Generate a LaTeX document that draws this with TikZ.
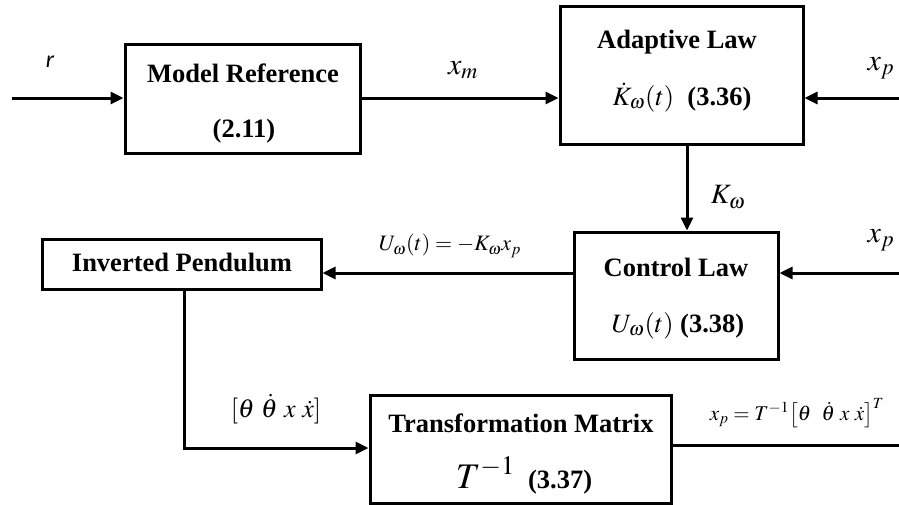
\documentclass[tikz,border=0pt]{standalone}
\usepackage{mathptmx}
\usepackage{fontspec}
\setmainfont{Liberation Serif}
\newfontfamily\carl{Carlito}
\usetikzlibrary{arrows.meta}
\tikzset{
  box/.style={draw, line width=3pt, inner sep=0pt},
  wire/.style={line width=3pt},
  arr/.style={wire, -{Triangle[length=13pt,width=12pt]}},
  btxt/.style={font=\fontsize{26.5}{30}\selectfont\bfseries, anchor=base, inner sep=0pt},
  lbl/.style={inner sep=0pt},
}
\begin{document}
\begin{tikzpicture}[x=1pt,y=-1pt]
\useasboundingbox (0,0) rectangle (899,504);
% boxes
\node[box, minimum width=235pt, minimum height=109pt] (mr) at (242.5,98.5) {};
\node[box, minimum width=243pt, minimum height=138pt] (al) at (681.5,75) {};
\node[box, minimum width=204pt, minimum height=127pt] (cl) at (676,295.5) {};
\node[box, minimum width=279pt, minimum height=50pt] (ip) at (181.5,264) {};
\node[box, minimum width=301pt, minimum height=108pt] (tm) at (520.5,449) {};
% box texts
\node[btxt] (mr1) at (243,82) {Model Reference};
\node[btxt] (mr2) at (244,137) {(2.11)};
\node[btxt] (al1) at (677,48) {Adaptive Law};
\node[btxt] (al2) at (682,105) {$\dot K_\omega(t)$\ \ (3.36)};
\node[btxt] (cl1) at (676,276) {Control Law};
\node[btxt] (cl2) at (678,332) {$U_\omega(t)$\ (3.38)};
\node[btxt] (ip1) at (182,271) {Inverted Pendulum};
\node[btxt] (tm1) at (521,432) {Transformation Matrix};
\node[btxt] (tm2) at (524,488) {{\fontsize{36}{40}\selectfont$T^{-1}$}\ \ (3.37)};
% helper coordinates
\coordinate (rin) at (12,98);
\coordinate (xp1) at (899,98);
\coordinate (xp2) at (899,273);
\coordinate (v) at (687,0);
\coordinate (u) at (0,273);
\coordinate (w) at (184,0);
\coordinate (tmy) at (0,448);
\coordinate (oy) at (0,445);
\coordinate (xout) at (899,445);
% connectors
\draw[arr] (rin) -- (rin -| mr.west);
\draw[arr] (mr.east |- rin) -- (rin -| al.west);
\draw[arr] (xp1) -- (xp1 -| al.east);
\draw[arr] (al.south -| v) -- (cl.north -| v);
\draw[arr] (xp2) -- (xp2 -| cl.east);
\draw[arr] (cl.west |- u) -- (ip.east |- u);
\draw[arr] (ip.south -| w) -- (w |- tmy) -- (tm.west |- tmy);
\draw[wire] (tm.east |- oy) -- (xout);
% labels
\node[lbl, font=\carl\itshape\fontsize{24}{28}\selectfont] (lr) at (50,62) {r};
\node[lbl, font=\fontsize{30}{34}\selectfont] (lxm) at (463,70) {$x_m$};
\node[lbl, font=\fontsize{30}{34}\selectfont] (lxp1) at (881,68) {$x_p$};
\node[lbl, font=\fontsize{28}{32}\selectfont] (lk) at (728,197) {$K_\omega$};
\node[lbl, font=\fontsize{30}{34}\selectfont] (lxp2) at (881,240) {$x_p$};
\node[lbl, font=\fontsize{22}{26}\selectfont] (lu) at (450,246) {$U_\omega(t)=-K_\omega x_p$};
\node[lbl, font=\fontsize{26}{30}\selectfont] (lth) at (276,409) {$[\theta\ \dot\theta\ x\ \dot x]$};
\node[lbl, font=\fontsize{21}{25}\selectfont] (lxt) at (797,413) {$x_p=T^{-1}\bigl[\theta\ \ \dot\theta\ x\ \dot x\bigr]^T$};
\end{tikzpicture}
\end{document}
